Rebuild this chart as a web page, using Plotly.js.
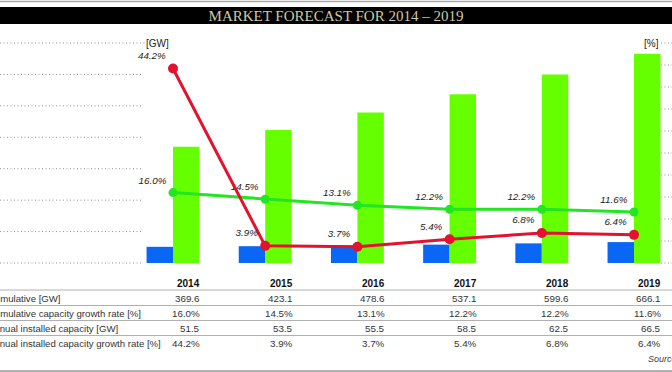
<!DOCTYPE html>
<html>
<head>
<meta charset="utf-8">
<script src="https://cdn.plot.ly/plotly-3.0.1.min.js"></script>
<style>
  html, body { margin: 0; padding: 0; background: #fff; }
  #chart { width: 672px; height: 372px; }
</style>
</head>
<body>
<div id="chart"></div>
<script>
// ---- data ----
const years = [2014, 2015, 2016, 2017, 2018, 2019];
const cumulativeGW = [369.6, 423.1, 478.6, 537.1, 599.6, 666.1];
const cumulativeGrowth = [16.0, 14.5, 13.1, 12.2, 12.2, 11.6];
const annualGW = [51.5, 53.5, 55.5, 58.5, 62.5, 66.5];
const annualGrowth = [44.2, 3.9, 3.7, 5.4, 6.8, 6.4];
const rowLabels = [
  'Cumulative [GW]',
  'Cumulative capacity growth rate [%]',
  'Annual installed capacity [GW]',
  'Annual installed capacity growth rate [%]'
];
const leftTicks = [0, 100, 200, 300, 400, 500, 600, 700];
const rightTicks = [0, 5, 10, 15, 20, 25, 30, 35, 40, 45, 50];
const titleText = 'MARKET FORECAST FOR 2014 – 2019';
const sourceText = 'Source';

// ---- layout geometry (pixels) ----
const W = 672, H = 372;
const L = 143, R = 661, T = 43, B = 263;
const pw = R - L, ph = B - T;
const px2x = p => (p - L) / pw;
const px2y = p => (B - p) / ph;

const sans = 'Liberation Sans, Arial, sans-serif';
const barW = 0.287;

const fmt1 = v => v.toFixed(1);
const fmtPct = v => v.toFixed(1) + '%';

const labelFont = { family: sans, size: 9.8, color: '#222', style: 'italic' };

const traces = [
  {
    type: 'bar', x: years, y: annualGW, name: 'Annual installed capacity [GW]',
    width: barW, offset: -barW, marker: { color: '#0a66f5' }, yaxis: 'y',
    hoverinfo: 'skip'
  },
  {
    type: 'bar', x: years, y: cumulativeGW, name: 'Cumulative [GW]',
    width: barW, offset: 0, marker: { color: '#66ff00' }, yaxis: 'y',
    hoverinfo: 'skip'
  },
  {
    type: 'scatter', mode: 'lines+markers+text', x: years, y: cumulativeGrowth,
    name: 'Cumulative capacity growth rate [%]', yaxis: 'y2',
    line: { color: '#22e622', width: 3 }, marker: { color: '#22e622', size: 9 },
    text: cumulativeGrowth.map(fmtPct), textposition: 'top left',
    textfont: labelFont, cliponaxis: false, hoverinfo: 'skip'
  },
  {
    type: 'scatter', mode: 'lines+markers+text', x: years, y: annualGrowth,
    name: 'Annual installed capacity growth rate [%]', yaxis: 'y2',
    line: { color: '#e3122e', width: 3 }, marker: { color: '#e3122e', size: 10 },
    text: annualGrowth.map(fmtPct), textposition: 'top left',
    textfont: labelFont, cliponaxis: false, hoverinfo: 'skip'
  }
];

const dotted = { color: '#909090', width: 1, dash: '1px,2.5px' };
const shapes = [];
// top thin gray rule
shapes.push({ type: 'line', xref: 'paper', yref: 'paper', x0: px2x(0), x1: px2x(W), y0: px2y(1.5), y1: px2y(1.5),
  line: { color: '#a8a8a8', width: 1.5 } });
// black title band
shapes.push({ type: 'rect', xref: 'paper', yref: 'paper', x0: px2x(-2), x1: px2x(W + 2), y0: px2y(24), y1: px2y(7),
  fillcolor: '#000', line: { width: 0 }, layer: 'below' });
// left dotted gridlines (outside plot area)
leftTicks.forEach(v => {
  shapes.push({ type: 'line', xref: 'paper', yref: 'paper', x0: px2x(0), x1: px2x(v === 700 ? 145 : 143),
    y0: v / 700, y1: v / 700, line: dotted });
});
// right dotted tick marks
rightTicks.forEach(v => {
  shapes.push({ type: 'line', xref: 'paper', yref: 'paper', x0: 1, x1: px2x(W), y0: v / 50, y1: v / 50, line: dotted });
});
// table rules
[290, 305.5, 320.5, 335.5].forEach(p => {
  shapes.push({ type: 'line', xref: 'paper', yref: 'paper', x0: px2x(0), x1: px2x(W), y0: px2y(p), y1: px2y(p),
    line: { color: '#b0b0b0', width: 1 } });
});
shapes.push({ type: 'line', xref: 'paper', yref: 'paper', x0: px2x(0), x1: px2x(W), y0: px2y(371), y1: px2y(371),
  line: { color: '#999', width: 1.5 } });

const annotations = [];
annotations.push({ text: '[GW]', xref: 'paper', yref: 'paper', x: px2x(144), y: 1, xanchor: 'left', yanchor: 'middle',
  showarrow: false, font: { family: sans, size: 10, color: '#222' } });
annotations.push({ text: '[%]', xref: 'paper', yref: 'paper', x: px2x(661), y: 1, xanchor: 'right', yanchor: 'middle',
  showarrow: false, font: { family: sans, size: 10, color: '#222' } });
// table header (years)
years.forEach(yr => {
  annotations.push({ text: '<b>' + yr + '</b>', xref: 'x', yref: 'paper', x: yr + barW, xshift: 3, y: px2y(283),
    xanchor: 'right', yanchor: 'middle', showarrow: false, font: { family: sans, size: 10, color: '#111' } });
});
const rowData = [cumulativeGW.map(fmt1), cumulativeGrowth.map(fmtPct), annualGW.map(fmt1), annualGrowth.map(fmtPct)];
const rowY = [298, 313, 328, 343];
rowLabels.forEach((lab, i) => {
  annotations.push({ text: lab, xref: 'paper', yref: 'paper', x: px2x(-14), y: px2y(rowY[i]),
    xanchor: 'left', yanchor: 'middle', showarrow: false, font: { family: sans, size: 9.6, color: '#333' } });
  years.forEach((yr, j) => {
    annotations.push({ text: rowData[i][j], xref: 'x', yref: 'paper', x: yr + barW, xshift: 3, y: px2y(rowY[i]),
      xanchor: 'right', yanchor: 'middle', showarrow: false, font: { family: sans, size: 9.8, color: '#333' } });
  });
});
annotations.push({ text: sourceText, xref: 'paper', yref: 'paper', x: px2x(646), y: px2y(359),
  xanchor: 'left', yanchor: 'middle', showarrow: false,
  font: { family: sans, size: 9, color: '#444', style: 'italic' } });

const layout = {
  width: W, height: H,
  margin: { l: L, r: W - R, t: T, b: H - B, pad: 0 },
  paper_bgcolor: '#fff', plot_bgcolor: 'rgba(0,0,0,0)',
  showlegend: false,
  barmode: 'overlay',
  title: {
    text: titleText, xref: 'container', yref: 'container', x: 0.5, y: 1 - 16 / H,
    xanchor: 'center', yanchor: 'middle',
    font: { family: 'Liberation Serif, DejaVu Serif, serif', size: 15, color: '#cfc9a6' }
  },
  xaxis: {
    range: [2014 - 30 / 92.2, 2019 + 27 / 92.2], showgrid: false, zeroline: false,
    showticklabels: false, ticks: '', showline: false, fixedrange: true
  },
  yaxis: {
    range: [0, 700], tickvals: leftTicks, showgrid: false, zeroline: false,
    showticklabels: false, ticks: '', showline: false, fixedrange: true
  },
  yaxis2: {
    range: [0, 50], tickvals: rightTicks, overlaying: 'y', side: 'right', showgrid: false, zeroline: false,
    showticklabels: false, ticks: '', showline: false, fixedrange: true
  },
  shapes: shapes,
  annotations: annotations
};

Plotly.newPlot('chart', traces, layout, { displayModeBar: false, staticPlot: true });
</script>
</body>
</html>
